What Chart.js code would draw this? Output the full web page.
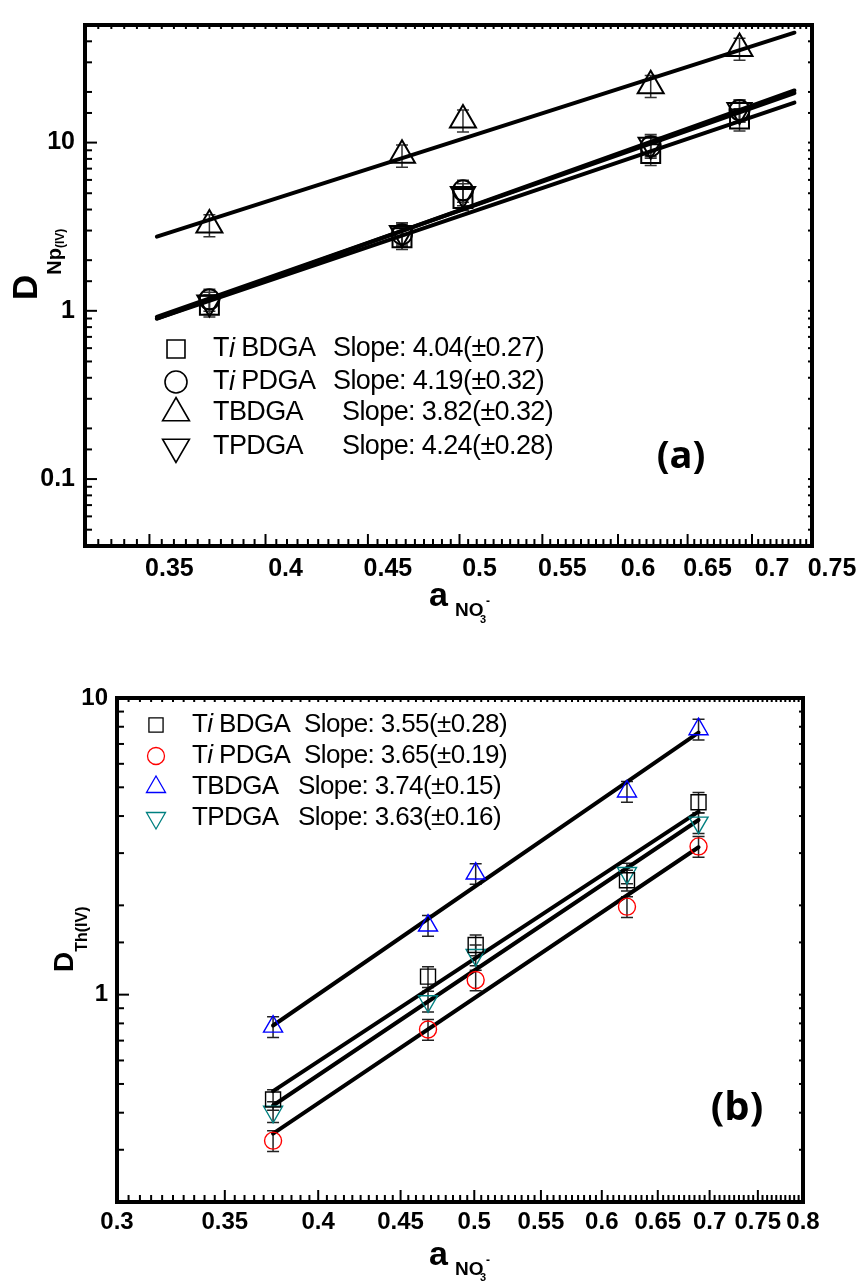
<!DOCTYPE html>
<html>
<head>
<meta charset="utf-8">
<script src="https://cdn.jsdelivr.net/npm/chart.js@4.4.1/dist/chart.umd.min.js"></script>
<style>
  body { margin: 0; background: #fff; }
  canvas { position: absolute; left: 0; }
</style>
</head>
<body>
<canvas id="chartA" width="860" height="640" style="top:0"></canvas>
<canvas id="chartB" width="860" height="642" style="top:640px"></canvas>
<script>
// Panel (a): D Np(IV) vs nitrate activity (log-log)
const xA = [0.375, 0.468, 0.502, 0.623, 0.690];
const tiBdgaA = [1.08, 2.72, 4.65, 8.6, 13.8];
const tiPdgaA = [1.17, 2.85, 5.2, 9.5, 15.6];
const tBdgaA = [3.24, 8.4, 13.6, 21.8, 36.3];
const tPdgaA = [1.12, 2.9, 4.95, 9.7, 15.6];
const fitXA = [0.353, 0.735];
const fitTiBdgaA = [0.90, 17.3];
const fitTiPdgaA = [0.92, 19.7];
const fitTBdgaA = [2.76, 45];
const fitTPdgaA = [0.90, 20.4];
const slopesA = ['4.04(±0.27)', '4.19(±0.32)', '3.82(±0.32)', '4.24(±0.28)'];
const xTicksA = [0.35, 0.4, 0.45, 0.5, 0.55, 0.6, 0.65, 0.7, 0.75];
const yLabelsA = [0.1, 1, 10];

// Panel (b): D Th(IV) vs nitrate activity (log-log)
const xB = [0.375, 0.468, 0.501, 0.622, 0.689];
const tiBdgaB = [0.443, 1.15, 1.47, 2.43, 4.45];
const tiPdgaB = [0.322, 0.763, 1.12, 1.98, 3.16];
const tBdgaB = [0.78, 1.71, 2.56, 4.84, 7.85];
const tPdgaB = [0.403, 0.95, 1.36, 2.57, 3.80];
const fitXB = [0.375, 0.689];
const fitTiBdgaB = [0.473, 4.14];
const fitTiPdgaB = [0.340, 3.14];
const fitTBdgaB = [0.787, 7.64];
const fitTPdgaB = [0.423, 3.88];
const slopesB = ['3.55(±0.28)', '3.65(±0.19)', '3.74(±0.15)', '3.63(±0.16)'];
const xTicksB = [0.3, 0.35, 0.4, 0.45, 0.5, 0.55, 0.6, 0.65, 0.7, 0.75, 0.8];
const yLabelsB = [1, 10];

const names = ['Ti BDGA', 'Ti PDGA', 'TBDGA', 'TPDGA'];
const FONT = 'Liberation Sans, Arial, sans-serif';

function pts(xs, ys) {
  return xs.map((x, i) => ({ x: x, y: ys[i] }));
}

function isLabel(list, v) {
  return list.some(l => Math.abs(l - v) / l < 1e-6);
}

// Draw a hollow marker the same way the chart does (used by the legend)
function drawMarker(ctx, style, x, y, r, rot, color, lw) {
  ctx.save();
  ctx.strokeStyle = color;
  ctx.lineWidth = lw;
  ctx.translate(x, y);
  ctx.rotate(rot * Math.PI / 180);
  ctx.beginPath();
  if (style === 'rect') {
    const s = r * Math.SQRT1_2;
    ctx.rect(-s, -s, 2 * s, 2 * s);
  } else if (style === 'circle') {
    ctx.arc(0, 0, r, 0, Math.PI * 2);
  } else {
    for (let k = 0; k < 3; k++) {
      const a = k * 2 * Math.PI / 3;
      const px = Math.sin(a) * r, py = -Math.cos(a) * r;
      if (k === 0) ctx.moveTo(px, py); else ctx.lineTo(px, py);
    }
    ctx.closePath();
  }
  ctx.stroke();
  ctx.restore();
}

// Text pieces drawn one after another along a baseline, optionally rotated
function drawRich(ctx, x0, y0, rotated, parts) {
  ctx.save();
  ctx.translate(x0, y0);
  if (rotated) ctx.rotate(-Math.PI / 2);
  ctx.fillStyle = '#000';
  ctx.textBaseline = 'alphabetic';
  ctx.textAlign = 'left';
  let u = 0;
  parts.forEach(p => {
    ctx.font = p.font;
    if (p.u !== undefined) u = p.u;
    ctx.fillText(p.t, u, p.v);
    u += ctx.measureText(p.t).width + (p.gap || 0);
  });
  ctx.restore();
}

// Frame, inside ticks, error bars, legend and axis titles
const decorPlugin = {
  id: 'decor',
  beforeDatasetsDraw(chart, args, o) {
    const { ctx, scales: { x, y } } = chart;
    ctx.save();
    ctx.strokeStyle = o.errColor;
    ctx.lineWidth = 1.5;
    chart.data.datasets.forEach(ds => {
      if (!ds.errRel) return;
      ds.data.forEach(p => {
        const px = x.getPixelForValue(p.x);
        const lo = y.getPixelForValue(p.y * (1 - ds.errRel));
        const hi = y.getPixelForValue(p.y * (1 + ds.errRel));
        ctx.beginPath();
        ctx.moveTo(px, lo); ctx.lineTo(px, hi);
        ctx.moveTo(px - o.capW / 2, lo); ctx.lineTo(px + o.capW / 2, lo);
        ctx.moveTo(px - o.capW / 2, hi); ctx.lineTo(px + o.capW / 2, hi);
        ctx.stroke();
      });
    });
    ctx.restore();
  },
  afterDraw(chart, args, o) {
    const { ctx, chartArea: a, scales: { x, y } } = chart;
    ctx.save();
    ctx.strokeStyle = '#000';
    ctx.lineWidth = 2;
    const line = (x1, y1, x2, y2) => { ctx.beginPath(); ctx.moveTo(x1, y1); ctx.lineTo(x2, y2); ctx.stroke(); };

    // x ticks every 0.005, long ones every 0.05
    const k0 = Math.ceil(x.min * 200 - 1e-6), k1 = Math.floor(x.max * 200 + 1e-6);
    for (let k = k0; k <= k1; k++) {
      const px = x.getPixelForValue(k / 200);
      const len = k % 10 === 0 ? o.majorLen : o.minorLen;
      line(px, a.bottom, px, a.bottom - len);
      line(px, a.top, px, a.top + 4);
    }
    // y ticks from the log scale
    y.ticks.forEach(t => {
      const py = y.getPixelForValue(t.value);
      const major = Math.abs(Math.log10(t.value) - Math.round(Math.log10(t.value))) < 1e-6;
      line(a.left, py, a.left + (major ? o.majorLen : o.minorLen), py);
      line(a.right, py, a.right - 4, py);
    });
    ctx.lineWidth = o.frameW;
    ctx.strokeRect(a.left, a.top, a.right - a.left, a.bottom - a.top);

    // legend
    const L = o.legend;
    L.styles.forEach((st, i) => {
      const ry = L.rowY[i];
      drawMarker(ctx, st, L.markerX, ry, L.radius[i], L.rot[i], L.colors[i], L.markerW);
      ctx.fillStyle = '#000';
      ctx.textBaseline = 'middle';
      ctx.textAlign = 'left';
      ctx.font = L.font;
      ctx.letterSpacing = L.spacing;
      const name = names[i];
      let tx = L.nameX;
      if (name.startsWith('Ti ')) {
        ctx.fillText('T', tx, ry);
        tx += ctx.measureText('T').width;
        ctx.font = 'italic ' + L.font;
        ctx.fillText('i', tx, ry);
        tx += ctx.measureText('i').width;
        ctx.font = L.font;
        ctx.fillText(name.slice(2), tx, ry);
      } else {
        ctx.fillText(name, tx, ry);
      }
      ctx.fillText('Slope: ' + L.slopes[i], L.slopeX[i], ry);
    });
    ctx.letterSpacing = '0px';

    // axis titles and panel tag
    drawRich(ctx, 0, o.yTitle.y, true, o.yTitle.parts);
    drawRich(ctx, 0, 0, false, o.xTitle);
    ctx.font = o.tag.font;
    ctx.textAlign = 'center';
    ctx.textBaseline = 'middle';
    ctx.fillStyle = '#000';
    ctx.fillText(o.tag.text, o.tag.x, o.tag.y);
    ctx.restore();
  }
};

function markerSet(xs, ys, style, r, rot, color, bw, err) {
  return {
    data: pts(xs, ys), showLine: false, pointStyle: style, pointRadius: r,
    pointRotation: rot, pointBorderColor: color, pointBackgroundColor: 'rgba(0,0,0,0)',
    pointBorderWidth: bw, errRel: err
  };
}

function fitSet(xs, ys, w) {
  return {
    data: pts(xs, ys), showLine: true, pointRadius: 0, borderColor: '#000',
    borderWidth: w, borderCapStyle: 'round', fill: false
  };
}

function buildChart(id, cfg) {
  return new Chart(document.getElementById(id), {
    type: 'scatter',
    data: { datasets: cfg.datasets },
    options: {
      responsive: false,
      animation: false,
      devicePixelRatio: 1,
      layout: { padding: cfg.padding },
      plugins: { legend: { display: false }, tooltip: { enabled: false }, decor: cfg.decor },
      scales: {
        x: {
          type: 'logarithmic', min: cfg.xMin, max: cfg.xMax,
          afterBuildTicks: s => { s.ticks = cfg.xTicks.map(v => ({ value: v })); },
          afterFit: s => { s.height = cfg.xHeight; },
          grid: { display: false, drawTicks: false }, border: { display: false },
          ticks: {
            autoSkip: false, maxRotation: 0, padding: cfg.xPad, labelOffset: cfg.labelOffset,
            color: '#000', font: { family: FONT, weight: 'bold', size: cfg.tickSize },
            callback: v => String(v)
          }
        },
        y: {
          type: 'logarithmic', min: cfg.yMin, max: cfg.yMax,
          afterFit: s => { s.width = cfg.yWidth; },
          grid: { display: false, drawTicks: false }, border: { display: false },
          ticks: {
            autoSkip: false, padding: cfg.yPad,
            color: '#000', font: { family: FONT, weight: 'bold', size: cfg.tickSize },
            callback: v => isLabel(cfg.yLabels, v) ? String(v) : ''
          }
        }
      }
    },
    plugins: [decorPlugin]
  });
}

// Panel (a)
buildChart('chartA', {
  datasets: [
    markerSet(xA, tiBdgaA, 'rect', 13.4, 0, '#000', 2, 0.15),
    markerSet(xA, tiPdgaA, 'circle', 10, 0, '#000', 2, 0.15),
    markerSet(xA, tBdgaA, 'triangle', 15, 0, '#000', 2, 0.15),
    markerSet(xA, tPdgaA, 'triangle', 14, 180, '#000', 2, 0.15),
    fitSet(fitXA, fitTiBdgaA, 4),
    fitSet(fitXA, fitTiPdgaA, 4),
    fitSet(fitXA, fitTBdgaA, 4),
    fitSet(fitXA, fitTPdgaA, 4)
  ],
  padding: { left: 0, right: 48, top: 14, bottom: 0 },
  xMin: 0.325, xMax: 0.75, yMin: 0.04, yMax: 50,
  xTicks: xTicksA, yLabels: yLabelsA,
  xHeight: 94, yWidth: 85, xPad: 8, yPad: 10, labelOffset: 20, tickSize: 25,
  decor: {
    errColor: '#333', capW: 12, majorLen: 12, minorLen: 7, frameW: 4,
    legend: {
      styles: ['rect', 'circle', 'triangle', 'triangle'], rot: [0, 0, 0, 180],
      radius: [12.7, 11, 15.5, 15.5], colors: ['#000', '#000', '#000', '#000'], markerW: 1.6,
      markerX: 176, rowY: [349, 382, 413, 447], nameX: 213, slopeX: [333, 333, 342, 342],
      font: '27px ' + FONT, spacing: '-0.6px', slopes: slopesA
    },
    yTitle: {
      y: 300, parts: [
        { t: 'D', font: 'bold 35px ' + FONT, v: 37 },
        { t: 'Np', font: 'bold 20px ' + FONT, v: 61 },
        { t: '(IV)', font: 'bold 12px ' + FONT, v: 64 }
      ]
    },
    xTitle: [
      { t: 'a', font: 'bold 34px ' + FONT, u: 429, v: 606 },
      { t: 'NO', font: 'bold 19px ' + FONT, u: 455, v: 616 },
      { t: '3', font: 'bold 11px ' + FONT, u: 480, v: 623 },
      { t: '-', font: 'bold 12px ' + FONT, u: 486, v: 605 }
    ],
    tag: { text: '(a)', font: 'bold 38px "Open Sans", sans-serif', x: 681, y: 457 }
  }
});

// Panel (b)
buildChart('chartB', {
  datasets: [
    markerSet(xB, tiBdgaB, 'rect', 10.6, 0, '#000', 1.4, 0.08),
    markerSet(xB, tiPdgaB, 'circle', 8.5, 0, '#ff0000', 1.4, 0.08),
    markerSet(xB, tBdgaB, 'triangle', 11, 0, '#0000ff', 1.4, 0.08),
    markerSet(xB, tPdgaB, 'triangle', 11, 180, '#008080', 1.4, 0.08),
    fitSet(fitXB, fitTiBdgaB, 4),
    fitSet(fitXB, fitTiPdgaB, 4),
    fitSet(fitXB, fitTBdgaB, 4),
    fitSet(fitXB, fitTPdgaB, 4)
  ],
  padding: { left: 0, right: 57, top: 58, bottom: 0 },
  xMin: 0.3, xMax: 0.8, yMin: 0.2, yMax: 10,
  xTicks: xTicksB, yLabels: yLabelsB,
  xHeight: 80, yWidth: 117, xPad: 6, yPad: 9, labelOffset: 0, tickSize: 24,
  decor: {
    errColor: '#222', capW: 12, majorLen: 12, minorLen: 7, frameW: 4,
    legend: {
      styles: ['rect', 'circle', 'triangle', 'triangle'], rot: [0, 0, 0, 180],
      radius: [10, 8.5, 11, 11], colors: ['#000', '#ff0000', '#0000ff', '#008080'], markerW: 1.3,
      markerX: 156, rowY: [85, 116, 147, 178], nameX: 192, slopeX: [304, 304, 298, 298],
      font: '26px ' + FONT, spacing: '-0.6px', slopes: slopesB
    },
    yTitle: {
      y: 332, parts: [
        { t: 'D', font: 'bold 28px ' + FONT, v: 73 },
        { t: 'Th(IV)', font: 'bold 16px ' + FONT, v: 87 }
      ]
    },
    xTitle: [
      { t: 'a', font: 'bold 34px ' + FONT, u: 429, v: 625 },
      { t: 'NO', font: 'bold 19px ' + FONT, u: 455, v: 635 },
      { t: '3', font: 'bold 11px ' + FONT, u: 480, v: 641 },
      { t: '-', font: 'bold 12px ' + FONT, u: 486, v: 624 }
    ],
    tag: { text: '(b)', font: 'bold 40px "Open Sans", sans-serif', x: 737, y: 469 }
  }
});
</script>
</body>
</html>
